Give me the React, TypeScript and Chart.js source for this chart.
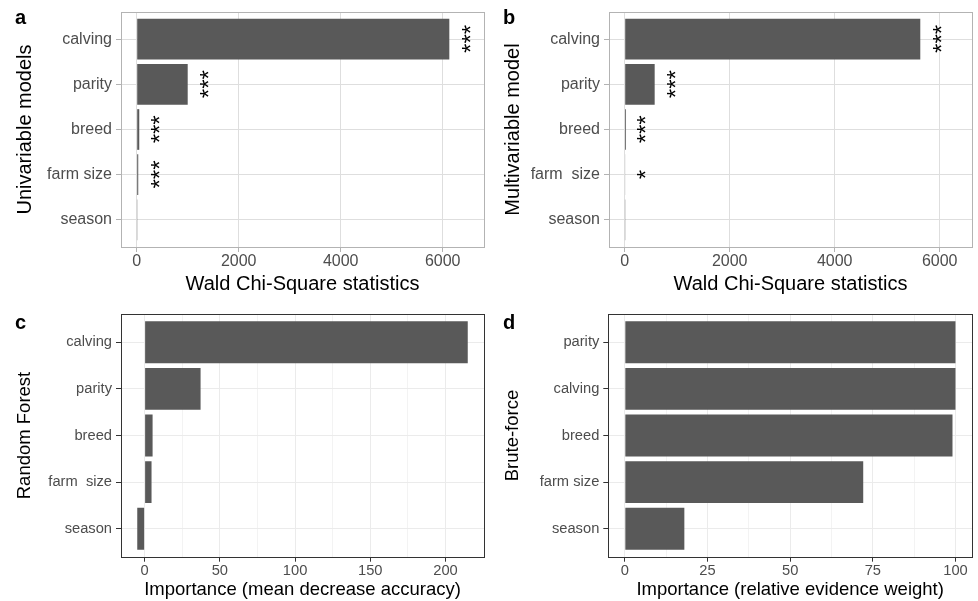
import React, { useEffect, useRef } from 'react';
import { Chart, registerables } from 'chart.js';

Chart.register(...registerables);

const FONT = "'Liberation Sans', Arial, Helvetica, sans-serif";

// ---------- data ----------
const categoriesA = ['calving', 'parity', 'breed', 'farm size', 'season'];
const valuesA = [6130, 1000, 50, 30, 5];
const starsA = ['***', '***', '***', '***', ''];
const starPosA = [6460, 1330, 375, 360, 0];

const categoriesB = ['calving', 'parity', 'breed', 'farm  size', 'season'];
const valuesB = [5630, 571, 25, 8, 5];
const starsB = ['***', '***', '***', '*', ''];
const starPosB = [5950, 885, 325, 315, 0];

const categoriesC = ['calving', 'parity', 'breed', 'farm  size', 'season'];
const valuesC = [214.8, 37.2, 5.3, 4.6, -4.9];

const categoriesD = ['parity', 'calving', 'breed', 'farm size', 'season'];
const valuesD = [100, 100, 99.1, 72.1, 18.0];

const ticksAB = [0, 2000, 4000, 6000];
const ticksC = [0, 50, 100, 150, 200];
const minorC = [25, 75, 125, 175];
const ticksD = [0, 25, 50, 75, 100];
const minorD = [12.5, 37.5, 62.5, 87.5];

// ---------- styling ----------
type Theme = { grid: string; border: string; tick: string };
const lightTheme: Theme = { grid: '#dedede', border: '#b3b3b3', tick: '#b3b3b3' };
const bwTheme: Theme = { grid: '#ebebeb', border: '#333333', tick: '#333333' };

interface PanelSpec {
  key: string;
  x: number; y: number; w: number; h: number;
  area: { left: number; right: number; top: number; bottom: number };
  categories: string[];
  values: number[];
  stars?: string[];
  starPos?: number[];
  xMin: number; xMax: number;
  major: number[]; minor: number[];
  theme: Theme;
  xTitle: string; yTitle: string;
  letter: string; letterY: number;
  tickSize: number; titleSize: number;
  yTitlePad: number; xTitlePad: number;
  xTickPad: number; yTickPad: number;
  starSize: number;
}

const panels: PanelSpec[] = [
  {
    key: 'a', x: 0, y: 0, w: 490, h: 300,
    area: { left: 121, right: 484, top: 10, bottom: 247 },
    categories: categoriesA, values: valuesA, stars: starsA, starPos: starPosA,
    xMin: -308, xMax: 6810, major: ticksAB, minor: [],
    theme: lightTheme,
    xTitle: 'Wald Chi-Square statistics', yTitle: 'Univariable models',
    letter: 'a', letterY: 24,
    tickSize: 16, titleSize: 20, yTitlePad: 15, xTitlePad: 6, xTickPad: 2, yTickPad: 4,
    starSize: 24,
  },
  {
    key: 'b', x: 488, y: 0, w: 490, h: 300,
    area: { left: 121, right: 484, top: 10, bottom: 247 },
    categories: categoriesB, values: valuesB, stars: starsB, starPos: starPosB,
    xMin: -299, xMax: 6615, major: ticksAB, minor: [],
    theme: lightTheme,
    xTitle: 'Wald Chi-Square statistics', yTitle: 'Multivariable model',
    letter: 'b', letterY: 24,
    tickSize: 16, titleSize: 20, yTitlePad: 15, xTitlePad: 6, xTickPad: 2, yTickPad: 4,
    starSize: 24,
  },
  {
    key: 'c', x: 0, y: 300, w: 490, h: 301,
    area: { left: 121, right: 484, top: 14.3, bottom: 256.7 },
    categories: categoriesC, values: valuesC,
    xMin: -15.7, xMax: 225.6, major: ticksC, minor: minorC,
    theme: bwTheme,
    xTitle: 'Importance (mean decrease accuracy)', yTitle: 'Random Forest',
    letter: 'c', letterY: 29.3,
    tickSize: 14.7, titleSize: 18.5, yTitlePad: 16, xTitlePad: 2, xTickPad: 2, yTickPad: 4,
    starSize: 24,
  },
  {
    key: 'd', x: 488, y: 300, w: 490, h: 301,
    area: { left: 120.3, right: 484, top: 14.3, bottom: 256.7 },
    categories: categoriesD, values: valuesD,
    xMin: -5, xMax: 105, major: ticksD, minor: minorD,
    theme: bwTheme,
    xTitle: 'Importance (relative evidence weight)', yTitle: 'Brute-force',
    letter: 'd', letterY: 29.3,
    tickSize: 14.7, titleSize: 18.5, yTitlePad: 16, xTitlePad: 2, xTickPad: 2, yTickPad: 4,
    starSize: 24,
  },
];

function overlayPlugin(p: PanelSpec) {
  return {
    id: 'overlay_' + p.key,
    afterDatasetsDraw(chart: any) {
      const { ctx, chartArea: a, scales } = chart;
      ctx.save();
      if (p.stars && p.starPos) {
        ctx.fillStyle = '#000000';
        ctx.font = `${p.starSize}px ${FONT}`;
        p.stars.forEach((s, i) => {
          if (!s) return;
          const px = scales.x.getPixelForValue(p.starPos![i]);
          const py = scales.y.getPixelForValue(i);
          ctx.textAlign = 'left';
          ctx.textBaseline = 'alphabetic';
          const m = ctx.measureText(s);
          ctx.save();
          ctx.translate(px, py);
          ctx.rotate(-Math.PI / 2);
          const x0 = (m.actualBoundingBoxLeft - m.actualBoundingBoxRight) / 2;
          const y0 = (m.actualBoundingBoxAscent - m.actualBoundingBoxDescent) / 2;
          ctx.fillText(s, x0, y0);
          ctx.restore();
        });
      }
      ctx.strokeStyle = p.theme.border;
      ctx.lineWidth = 1;
      const l = Math.round(a.left) + 0.5;
      const t = Math.round(a.top) + 0.5;
      const r = Math.round(a.right) + 0.5;
      const b = Math.round(a.bottom) + 0.5;
      ctx.strokeRect(l, t, r - l, b - t);
      ctx.restore();
    },
    afterDraw(chart: any) {
      const { ctx } = chart;
      ctx.save();
      ctx.fillStyle = '#000000';
      ctx.font = `bold 20px ${FONT}`;
      ctx.textAlign = 'left';
      ctx.textBaseline = 'alphabetic';
      ctx.fillText(p.letter, 15, p.letterY);
      ctx.restore();
    },
  };
}

function PanelChart({ p }: { p: PanelSpec }) {
  const ref = useRef<HTMLCanvasElement | null>(null);
  useEffect(() => {
    if (!ref.current) return;
    const xTicks = [
      ...p.major.map((v) => ({ value: v, minor: false })),
      ...p.minor.map((v) => ({ value: v, minor: true })),
    ].sort((a, b) => a.value - b.value);
    const chart = new Chart(ref.current, {
      type: 'bar',
      data: {
        datasets: [
          {
            data: p.values.map((v, i) => ({ x: v, y: i })),
            backgroundColor: '#595959',
            borderWidth: 0,
            barPercentage: 0.9,
            categoryPercentage: 1,
          },
        ],
      },
      options: {
        indexAxis: 'y',
        responsive: false,
        animation: false,
        events: [],
        layout: {
          padding: { left: 0, top: p.area.top, right: p.w - p.area.right, bottom: 0 },
        },
        plugins: { legend: { display: false }, tooltip: { enabled: false } },
        scales: {
          x: {
            type: 'linear',
            position: 'bottom',
            min: p.xMin,
            max: p.xMax,
            bounds: 'data',
            offset: false,
            afterBuildTicks: (scale: any) => {
              scale.ticks = xTicks.map((t) => ({ ...t }));
            },
            afterFit: (scale: any) => {
              scale.height = p.h - p.area.bottom;
            },
            ticks: {
              autoSkip: false,
              maxRotation: 0,
              padding: p.xTickPad,
              color: '#4d4d4d',
              font: { family: FONT, size: p.tickSize, lineHeight: 1 },
              callback: (value: any, index: number, ticks: any[]) =>
                ticks[index] && ticks[index].minor ? '' : String(value),
            },
            grid: {
              offset: false,
              color: p.theme.grid,
              lineWidth: (ctx: any) => (ctx.tick && ctx.tick.minor ? 0.6 : 1),
              drawTicks: true,
              tickLength: 5,
              tickWidth: 1,
              tickColor: (ctx: any) => (ctx.tick && ctx.tick.minor ? 'rgba(0,0,0,0)' : p.theme.tick),
            },
            border: { display: false },
            title: {
              display: true,
              text: p.xTitle,
              color: '#000000',
              font: { family: FONT, size: p.titleSize, lineHeight: 1 },
              padding: { top: 0, bottom: p.xTitlePad },
            },
          },
          y: {
            type: 'linear',
            position: 'left',
            min: -0.6,
            max: 4.6,
            reverse: true,
            bounds: 'data',
            offset: false,
            afterBuildTicks: (scale: any) => {
              scale.ticks = p.categories.map((_, i) => ({ value: i }));
            },
            afterFit: (scale: any) => {
              scale.width = p.area.left;
            },
            ticks: {
              autoSkip: false,
              padding: p.yTickPad,
              color: '#4d4d4d',
              font: { family: FONT, size: p.tickSize, lineHeight: 1 },
              callback: (value: any) => p.categories[Math.round(Number(value))] ?? '',
            },
            grid: {
              offset: false,
              color: p.theme.grid,
              lineWidth: 1,
              drawTicks: true,
              tickLength: 5,
              tickWidth: 1,
              tickColor: p.theme.tick,
            },
            border: { display: false },
            title: {
              display: true,
              text: p.yTitle,
              color: '#000000',
              font: { family: FONT, size: p.titleSize, lineHeight: 1 },
              padding: { top: p.yTitlePad, bottom: 0 },
            },
          },
        },
      } as any,
      plugins: [overlayPlugin(p)],
    });
    return () => chart.destroy();
  }, [p]);
  return (
    <canvas
      ref={ref}
      width={p.w}
      height={p.h}
      style={{ position: 'absolute', left: p.x, top: p.y, width: p.w, height: p.h }}
    />
  );
}

export default function App() {
  return (
    <div
      style={{
        position: 'absolute',
        left: 0,
        top: 0,
        width: 978,
        height: 601,
        background: '#ffffff',
        overflow: 'hidden',
      }}
    >
      {panels.map((p) => (
        <PanelChart key={p.key} p={p} />
      ))}
    </div>
  );
}
